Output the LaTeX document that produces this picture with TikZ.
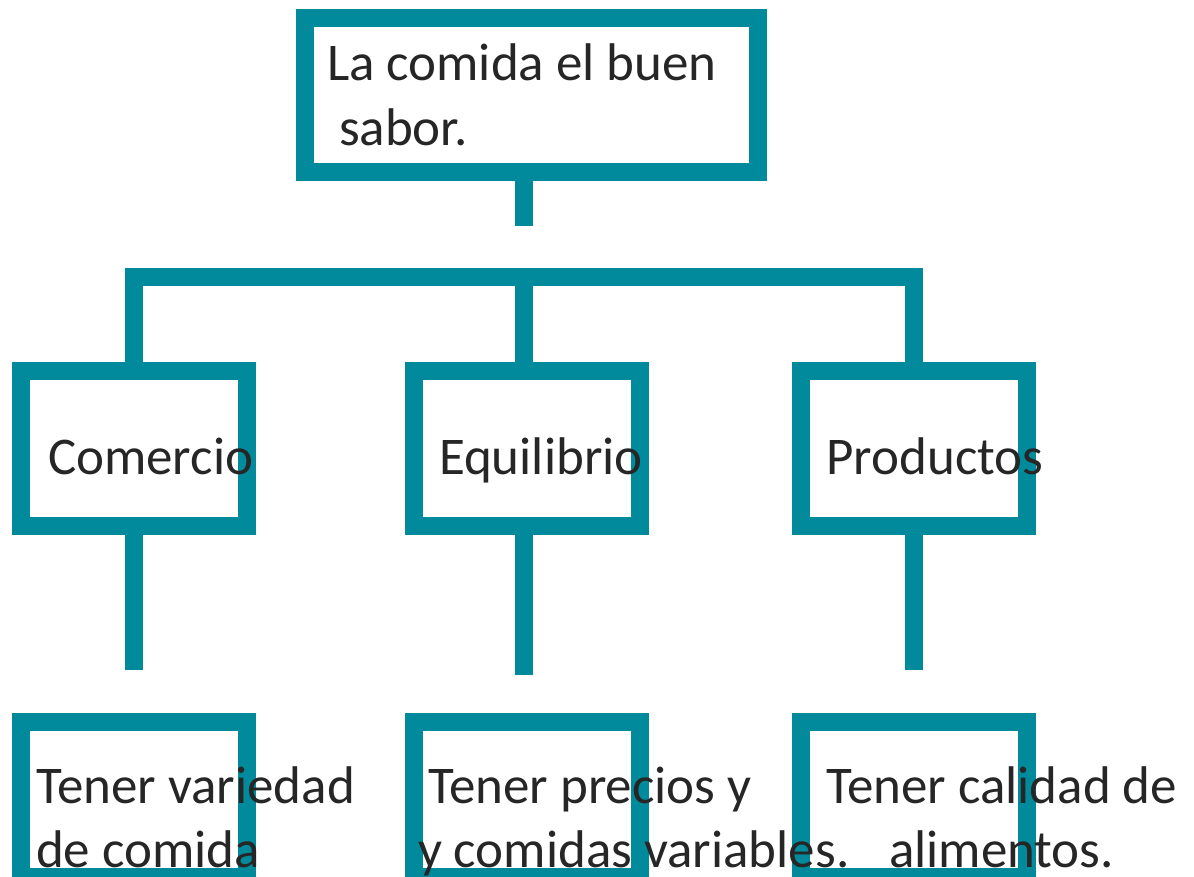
\documentclass[tikz,border=0pt]{standalone}
\usepackage{fontspec}
\setmainfont{Carlito}
\definecolor{tealb}{RGB}{0,138,155}
\definecolor{ink}{RGB}{38,38,38}
\begin{document}
\begin{tikzpicture}[x=1pt,y=-1pt,
  boxbase/.style={draw=tealb,line width=18pt,inner sep=0pt,outer sep=0pt,line join=miter,minimum width=226.5pt,minimum height=155pt},
  conn/.style={draw=tealb,line width=18pt,line join=miter,line cap=butt},
  txt/.style={anchor=base west,inner sep=0pt,outer sep=0pt,text=ink,font=\fontsize{53}{64}\selectfont}
]
\clip (0,0) rectangle (1194,877);
\fill[white] (0,0) rectangle (1194,877);
% boxes
\node[boxbase,minimum width=453pt,minimum height=154pt] (top) at (531.5,95) {};
\node[boxbase] (c1) at (133.75,448.5) {};
\node[boxbase] (c2) at (526.75,448.5) {};
\node[boxbase] (c3) at (913.9,448.5) {};
\node[boxbase] (b1) at (133.75,799.5) {};
\node[boxbase] (b2) at (526.75,799.5) {};
\node[boxbase] (b3) at (913.9,799.5) {};
% connector points
\coordinate (s0) at (524,226);
\coordinate (bl) at (134,277);
\coordinate (bm) at (524,277);
\coordinate (br) at (913.5,277);
\coordinate (e1) at (134,670);
\coordinate (e2) at (524,675);
\coordinate (e3) at (913.5,670);
% connectors
\draw[conn] (top.south -| s0) -- (s0);
\draw[conn] (c1.north -| bl) -- (bl) -- (br) -- (c3.north -| br);
\draw[conn] (bm) -- (c2.north -| bm);
\draw[conn] (c1.south -| e1) -- (e1);
\draw[conn] (c2.south -| e2) -- (e2);
\draw[conn] (c3.south -| e3) -- (e3);
% texts
\node[txt] (t1) at (327,81) {La comida el buen};
\node[txt] (t2) at (339,146) {sabor.};
\node[txt] (m1) at (48,474) {Comercio};
\node[txt] (m2) at (439,474) {Equilibrio};
\node[txt] (m3) at (826.5,474) {Productos};
\node[txt] (l11) at (36,803) {Tener variedad};
\node[txt] (l12) at (36,867) {de comida};
\node[txt] (l21) at (428,803) {Tener precios y};
\node[txt] (l22) at (418,867) {y comidas variables.};
\node[txt] (l31) at (826,803) {Tener calidad de};
\node[txt] (l32) at (889,867) {alimentos.};
\end{tikzpicture}
\end{document}
